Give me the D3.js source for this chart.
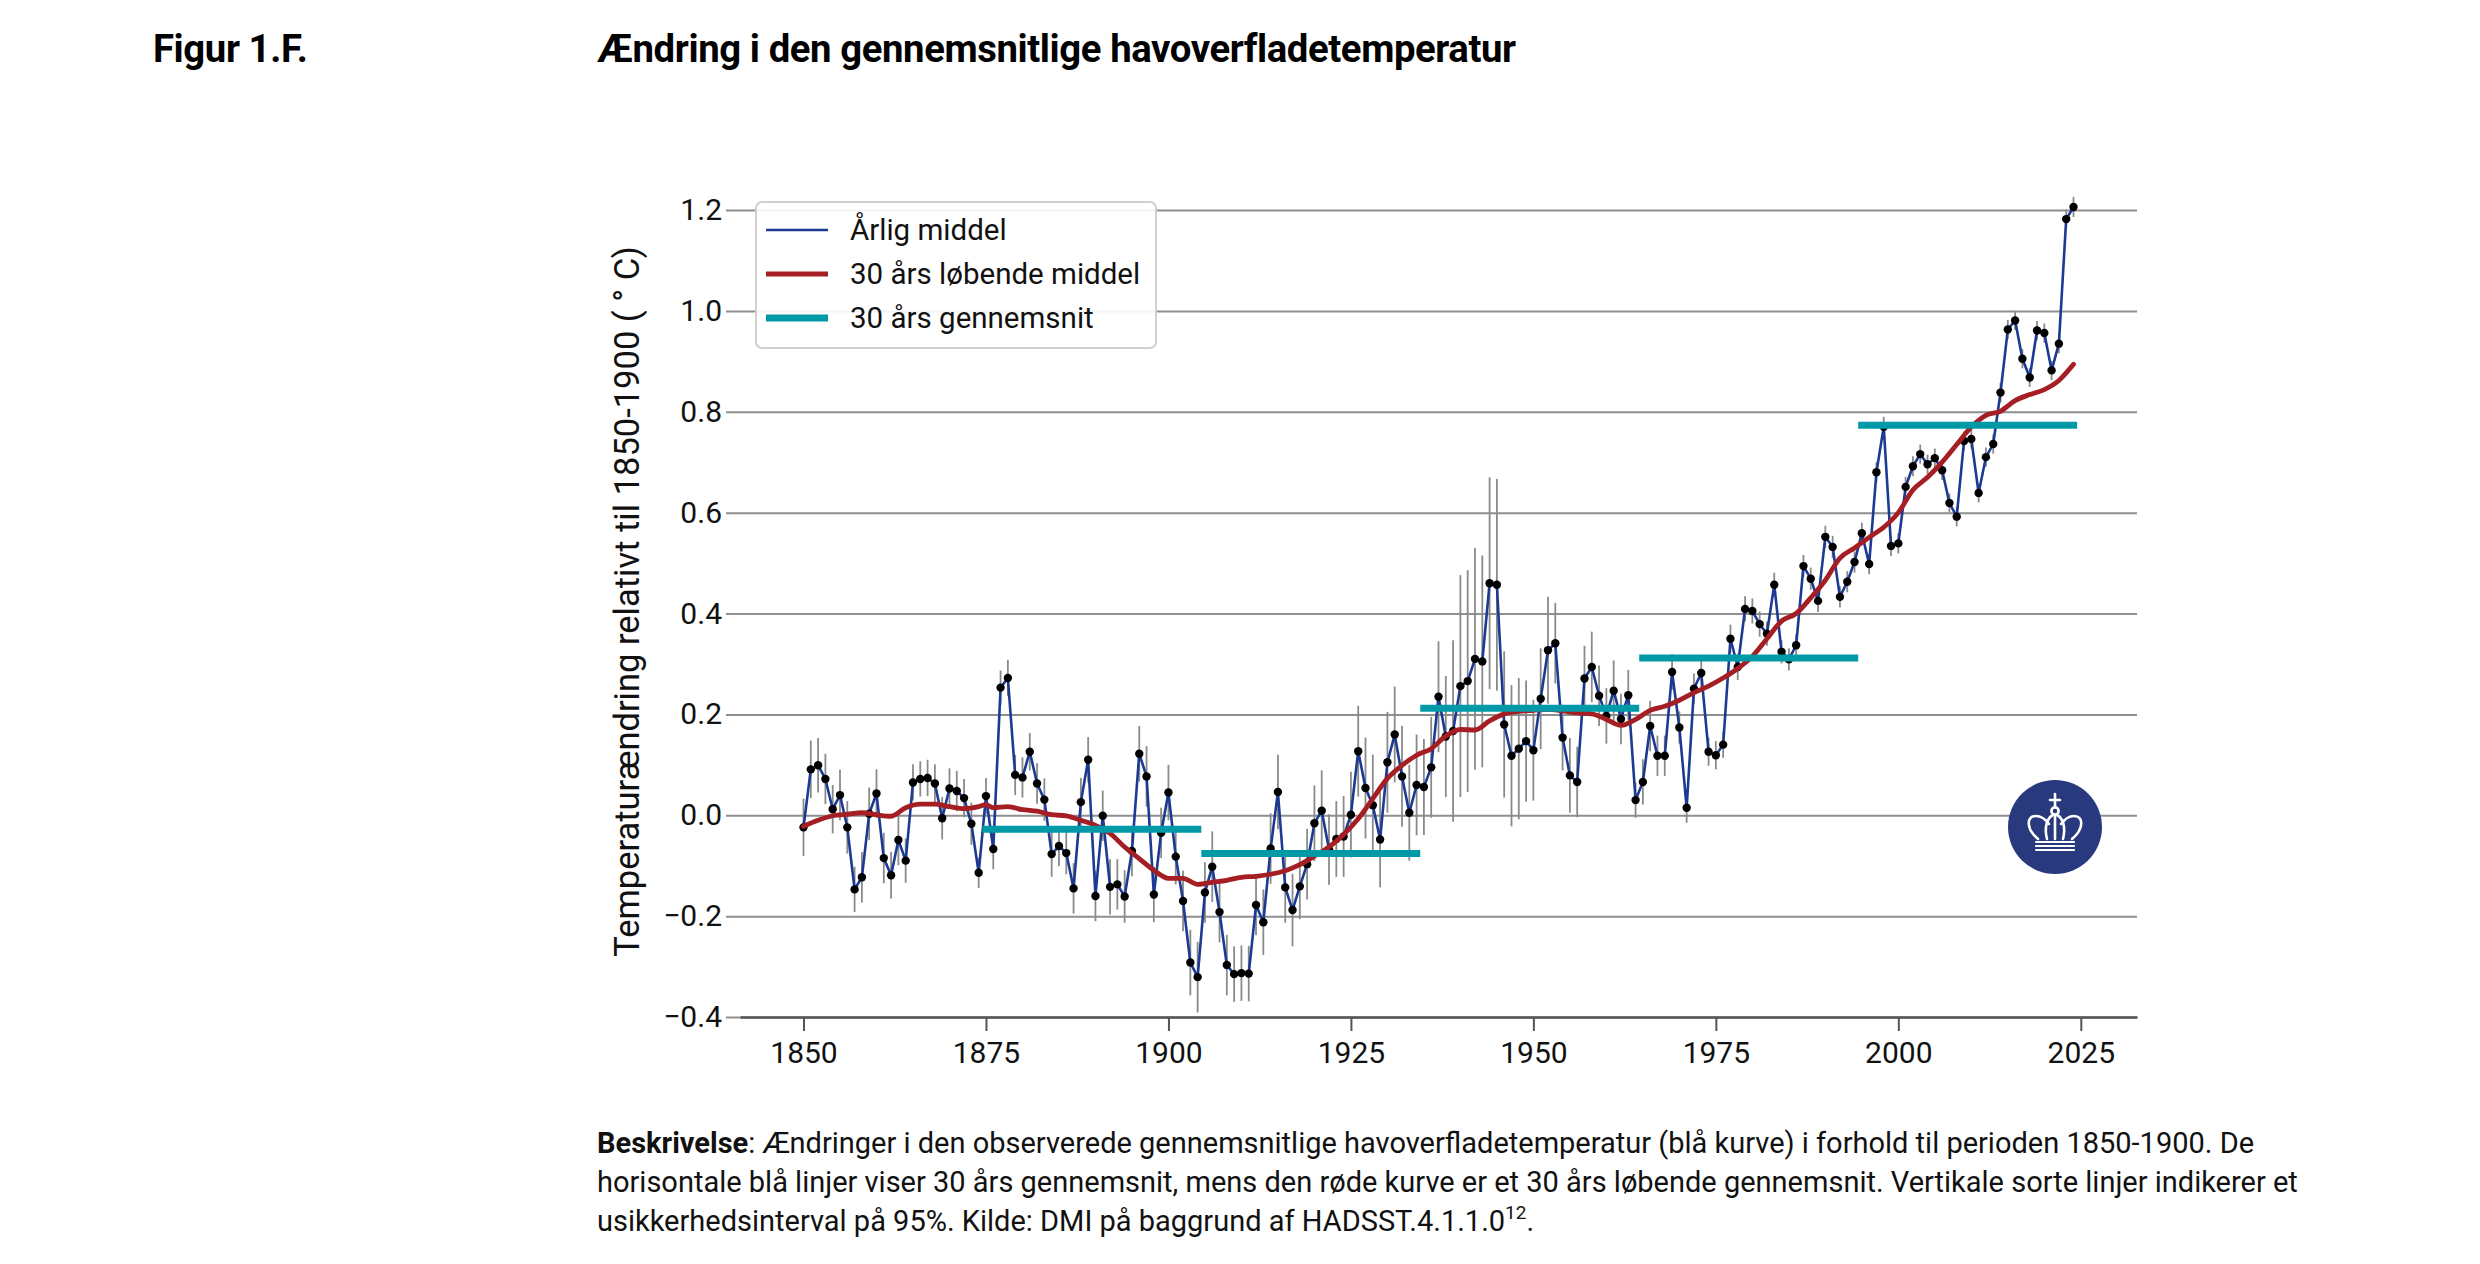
<!DOCTYPE html>
<html>
<head>
<meta charset="utf-8">
<script src="https://cdn.jsdelivr.net/npm/d3@7.9.0/dist/d3.min.js"></script>
<style>
  html, body { margin: 0; padding: 0; background: #fff; }
  svg { display: block; font-family: Roboto, "Noto Sans", sans-serif; }
</style>
</head>
<body>
<svg id="chart" width="2480" height="1264"></svg>
<script>
// Annual mean sea surface temperature anomaly (°C vs 1850-1900), 1850-2024
const firstYear = 1850;
const annual = [
  -0.024, 0.091, 0.099, 0.072, 0.012, 0.040, -0.024, -0.147, -0.123, 0.003,
  0.043, -0.085, -0.119, -0.049, -0.090, 0.065, 0.072, 0.074, 0.063, -0.006,
  0.053, 0.048, 0.034, -0.017, -0.114, 0.038, -0.067, 0.253, 0.272, 0.080,
  0.075, 0.126, 0.063, 0.031, -0.077, -0.061, -0.075, -0.145, 0.026, 0.110,
  -0.160, -0.001, -0.142, -0.137, -0.161, -0.071, 0.122, 0.077, -0.157, -0.035,
  0.045, -0.082, -0.170, -0.292, -0.321, -0.153, -0.102, -0.192, -0.297, -0.315,
  -0.313, -0.314, -0.178, -0.212, -0.066, 0.046, -0.143, -0.188, -0.141, -0.097,
  -0.016, 0.009, -0.068, -0.047, -0.042, 0.001, 0.127, 0.054, 0.020, -0.048,
  0.105, 0.160, 0.077, 0.005, 0.060, 0.056, 0.095, 0.235, 0.156, 0.167,
  0.256, 0.266, 0.310, 0.305, 0.460, 0.457, 0.180, 0.118, 0.132, 0.147,
  0.129, 0.231, 0.327, 0.341, 0.154, 0.079, 0.066, 0.271, 0.294, 0.237,
  0.197, 0.247, 0.191, 0.238, 0.030, 0.066, 0.177, 0.118, 0.118, 0.284,
  0.174, 0.015, 0.251, 0.282, 0.126, 0.119, 0.140, 0.350, 0.294, 0.409,
  0.405, 0.379, 0.360, 0.457, 0.324, 0.309, 0.337, 0.494, 0.469, 0.425,
  0.552, 0.532, 0.433, 0.463, 0.502, 0.559, 0.498, 0.680, 0.770, 0.534,
  0.539, 0.651, 0.692, 0.716, 0.696, 0.708, 0.684, 0.619, 0.592, 0.742,
  0.746, 0.639, 0.710, 0.736, 0.838, 0.963, 0.981, 0.905, 0.868, 0.961,
  0.956, 0.882, 0.935, 1.182, 1.206
];

// Half width of the 95% uncertainty interval per year
const uncertainty = [
  0.057, 0.057, 0.054, 0.050, 0.048, 0.050, 0.052, 0.045, 0.050, 0.052,
  0.048, 0.050, 0.046, 0.050, 0.044, 0.036, 0.035, 0.036, 0.038, 0.042,
  0.040, 0.040, 0.038, 0.042, 0.030, 0.036, 0.040, 0.034, 0.036, 0.040,
  0.040, 0.037, 0.040, 0.042, 0.045, 0.040, 0.042, 0.050, 0.048, 0.045,
  0.050, 0.050, 0.055, 0.050, 0.052, 0.050, 0.055, 0.060, 0.055, 0.050,
  0.055, 0.055, 0.060, 0.065, 0.070, 0.060, 0.070, 0.060, 0.060, 0.055,
  0.055, 0.055, 0.060, 0.065, 0.070, 0.074, 0.070, 0.072, 0.065, 0.070,
  0.075, 0.080, 0.070, 0.075, 0.080, 0.085, 0.090, 0.100, 0.100, 0.095,
  0.100, 0.095, 0.100, 0.095, 0.100, 0.095, 0.100, 0.110, 0.120, 0.180,
  0.220, 0.220, 0.220, 0.210, 0.210, 0.210, 0.145, 0.140, 0.140, 0.120,
  0.100, 0.100, 0.106, 0.080, 0.065, 0.074, 0.070, 0.065, 0.070, 0.060,
  0.055, 0.060, 0.050, 0.050, 0.035, 0.045, 0.050, 0.040, 0.040, 0.035,
  0.032, 0.030, 0.030, 0.028, 0.028, 0.028, 0.026, 0.028, 0.026, 0.025,
  0.025, 0.025, 0.024, 0.024, 0.023, 0.022, 0.022, 0.022, 0.022, 0.022,
  0.022, 0.022, 0.021, 0.021, 0.021, 0.021, 0.020, 0.020, 0.020, 0.020,
  0.020, 0.020, 0.020, 0.019, 0.019, 0.019, 0.019, 0.019, 0.019, 0.019,
  0.019, 0.019, 0.019, 0.019, 0.019, 0.019, 0.019, 0.019, 0.019, 0.019,
  0.019, 0.019, 0.019, 0.019, 0.020
];

// 30-year running mean
const runningYears = [
  1850, 1852, 1854, 1856, 1858, 1860, 1862, 1864, 1866, 1868, 1870, 1872, 1874, 1875, 1876, 1878,
  1880, 1882, 1884, 1886, 1888, 1890, 1892, 1894, 1896, 1898, 1900, 1902, 1904, 1906, 1908,
  1910, 1912, 1914, 1916, 1918, 1920, 1922, 1924, 1926, 1928, 1930, 1932, 1934, 1936, 1938,
  1940, 1942, 1944, 1946, 1948, 1950, 1952, 1954, 1956, 1958, 1960, 1962, 1964, 1966, 1968,
  1970, 1972, 1974, 1976, 1978, 1980, 1982, 1984, 1986, 1988, 1990, 1992, 1994, 1996, 1998,
  2000, 2002, 2004, 2006, 2008, 2010, 2012, 2014, 2016, 2018, 2020, 2022, 2024
];
const runningMean = [
  -0.022, -0.010, -0.001, 0.002, 0.005, 0.001, -0.002, 0.015, 0.022, 0.022, 0.017, 0.013, 0.017, 0.021, 0.015, 0.017,
  0.011, 0.008, 0.001, -0.001, -0.010, -0.020, -0.036, -0.063, -0.086, -0.109, -0.125, -0.125, -0.137, -0.133, -0.129,
  -0.123, -0.121, -0.117, -0.110, -0.098, -0.081, -0.063, -0.038, -0.007, 0.033, 0.073, 0.099, 0.119, 0.132, 0.157,
  0.170, 0.169, 0.187, 0.201, 0.206, 0.208, 0.210, 0.207, 0.203, 0.201, 0.190, 0.178, 0.190, 0.208, 0.216,
  0.228, 0.243, 0.256, 0.272, 0.291, 0.315, 0.350, 0.385, 0.400, 0.431, 0.466, 0.510, 0.530, 0.551, 0.571,
  0.600, 0.645, 0.670, 0.700, 0.735, 0.770, 0.793, 0.801, 0.822, 0.834, 0.844, 0.862, 0.894
];

// 30-year period averages
const periodStart = [1875, 1905, 1935, 1965, 1995];
const periodEnd = [1904, 1934, 1964, 1994, 2024];
const periodMean = [-0.028, -0.076, 0.212, 0.312, 0.773];

const yTicks = [-0.4, -0.2, 0.0, 0.2, 0.4, 0.6, 0.8, 1.0, 1.2];
const xTicks = [1850, 1875, 1900, 1925, 1950, 1975, 2000, 2025];

const legendLabels = ['Årlig middel', '30 års løbende middel', '30 års gennemsnit'];

const colors = {
  annual: '#1c3a92',
  running: '#a51e24',
  period: '#0099a8',
  grid: '#8f8f8f',
  axis: '#555',
  err: '#8a8a8a',
  logo: '#283a7d',
};

const svg = d3.select('#chart');

const plot = { left: 740, right: 2137, top: 210, bottom: 1017 };

const x = d3.scaleLinear()
  .domain([1841.3, 2032.7])
  .range([plot.left, plot.right]);

const y = d3.scaleLinear()
  .domain([-0.4, 1.2])
  .range([plot.bottom, plot.top]);

const series = annual.map((v, i) => ({ year: firstYear + i, value: v, err: uncertainty[i] }));
const running = runningYears.map((yr, i) => ({ year: yr, value: runningMean[i] }));

// Header
svg.append('text')
  .attr('x', 153).attr('y', 62)
  .attr('font-size', 38.3).attr('font-weight', 700)
  .attr('letter-spacing', -0.4)
  .text('Figur 1.F.');

svg.append('text')
  .attr('x', 597).attr('y', 62)
  .attr('font-size', 38.3).attr('font-weight', 700)
  .attr('letter-spacing', -0.4)
  .text('Ændring i den gennemsnitlige havoverfladetemperatur');

// Horizontal gridlines with short outer ticks
const yAxis = d3.axisLeft(y)
  .tickValues(yTicks)
  .tickFormat(d3.format('.1f'))
  .tickSize(-(plot.right - plot.left))
  .tickPadding(18);

const gy = svg.append('g')
  .attr('transform', `translate(${plot.left},0)`)
  .call(yAxis);
gy.select('.domain').remove();
gy.selectAll('.tick line')
  .attr('stroke', colors.grid)
  .attr('stroke-width', 2)
  .attr('x1', -14);
gy.selectAll('.tick text')
  .attr('font-size', 30)
  .attr('fill', '#111')
  .attr('font-family', 'Roboto, sans-serif');

// Bottom axis
const xAxis = d3.axisBottom(x)
  .tickValues(xTicks)
  .tickFormat(d3.format('d'))
  .tickSize(14)
  .tickSizeOuter(0)
  .tickPadding(11);

const gx = svg.append('g')
  .attr('transform', `translate(0,${plot.bottom})`)
  .call(xAxis);
gx.select('.domain')
  .attr('stroke', colors.axis)
  .attr('stroke-width', 2.5);
gx.selectAll('.tick line')
  .attr('stroke', colors.axis)
  .attr('stroke-width', 2);
gx.selectAll('.tick text')
  .attr('font-size', 30)
  .attr('fill', '#111')
  .attr('font-family', 'Roboto, sans-serif');

// Y axis title
svg.append('text')
  .attr('transform', `translate(639,${(plot.top + plot.bottom) / 2 - 12}) rotate(-90)`)
  .attr('text-anchor', 'middle')
  .attr('font-size', 34.5)
  .attr('fill', '#111')
  .text('Temperaturændring relativt til 1850-1900 ( ° C)');

// Error bars
svg.append('g')
  .selectAll('line')
  .data(series)
  .join('line')
  .attr('x1', d => x(d.year))
  .attr('x2', d => x(d.year))
  .attr('y1', d => y(d.value - d.err))
  .attr('y2', d => y(d.value + d.err))
  .attr('stroke', colors.err)
  .attr('stroke-width', 1.8);

// Annual line
const line = d3.line()
  .x(d => x(d.year))
  .y(d => y(d.value));

svg.append('path')
  .datum(series)
  .attr('d', line)
  .attr('fill', 'none')
  .attr('stroke', colors.annual)
  .attr('stroke-width', 2.6)
  .attr('stroke-linejoin', 'round');

svg.append('g')
  .selectAll('circle')
  .data(series)
  .join('circle')
  .attr('cx', d => x(d.year))
  .attr('cy', d => y(d.value))
  .attr('r', 4.2)
  .attr('fill', '#000');

// Running mean
svg.append('path')
  .datum(running)
  .attr('d', line.curve(d3.curveMonotoneX))
  .attr('fill', 'none')
  .attr('stroke', colors.running)
  .attr('stroke-width', 4.8)
  .attr('stroke-linecap', 'round');

// Period averages
svg.append('g')
  .selectAll('line')
  .data(periodMean)
  .join('line')
  .attr('x1', (d, i) => x(periodStart[i] - 0.5))
  .attr('x2', (d, i) => x(periodEnd[i] + 0.5))
  .attr('y1', d => y(d))
  .attr('y2', d => y(d))
  .attr('stroke', colors.period)
  .attr('stroke-width', 7);

// Legend
const legend = svg.append('g').attr('transform', 'translate(756,202)');
legend.append('rect')
  .attr('width', 400).attr('height', 146)
  .attr('rx', 6)
  .attr('fill', '#fff')
  .attr('fill-opacity', 0.9)
  .attr('stroke', '#d0d0d0')
  .attr('stroke-width', 2);

const legendStroke = [colors.annual, colors.running, colors.period];
const legendWidth = [2.6, 4.8, 7];
legendLabels.forEach((label, i) => {
  const row = legend.append('g').attr('transform', `translate(0,${28 + i * 44})`);
  row.append('line')
    .attr('x1', 10).attr('x2', 72)
    .attr('stroke', legendStroke[i])
    .attr('stroke-width', legendWidth[i]);
  row.append('text')
    .attr('x', 94).attr('dy', '0.35em')
    .attr('font-size', 29.5)
    .attr('fill', '#111')
    .text(label);
});

// Logo: crown in a circle
const logo = svg.append('g').attr('transform', 'translate(2055,827)');
logo.append('circle').attr('r', 47).attr('fill', colors.logo);
const crown = logo.append('g')
  .attr('fill', 'none')
  .attr('stroke', '#fff')
  .attr('stroke-width', 2.6)
  .attr('stroke-linecap', 'round');
crown.append('path').attr('d', 'M0,-33 L0,-21 M-5,-27 L5,-27');
crown.append('circle').attr('cy', -16).attr('r', 3.6);
crown.append('path').attr('d', 'M0,-12 L0,12');
crown.append('path').attr('d', 'M-17,12 C-29,2 -29,-11 -19,-11 C-13,-11 -9,-7 -6,-3');
crown.append('path').attr('d', 'M17,12 C29,2 29,-11 19,-11 C13,-11 9,-7 6,-3');
crown.append('path').attr('d', 'M-8,12 C-11,0 -8,-9 -2,-12');
crown.append('path').attr('d', 'M8,12 C11,0 8,-9 2,-12');
crown.append('path')
  .attr('stroke-width', 2.2)
  .attr('d', 'M-19,15 L19,15 M-19,19 L19,19 M-19,23 L19,23');

// Caption
const caption = svg.append('text')
  .attr('x', 597)
  .attr('font-size', 29)
  .attr('fill', '#111');

const l1 = caption.append('tspan').attr('x', 597).attr('y', 1153);
l1.append('tspan').attr('font-weight', 700).text('Beskrivelse');
l1.append('tspan').text(': Ændringer i den observerede gennemsnitlige havoverfladetemperatur (blå kurve) i forhold til perioden 1850-1900. De');

caption.append('tspan').attr('x', 597).attr('y', 1192)
  .text('horisontale blå linjer viser 30 års gennemsnit, mens den røde kurve er et 30 års løbende gennemsnit. Vertikale sorte linjer indikerer et');

const l3 = caption.append('tspan').attr('x', 597).attr('y', 1231);
l3.append('tspan').text('usikkerhedsinterval på 95%. Kilde: DMI på baggrund af HADSST.4.1.1.0');
l3.append('tspan').attr('font-size', 19).attr('dy', -12).text('12');
l3.append('tspan').attr('dy', 12).text('.');
</script>
</body>
</html>
